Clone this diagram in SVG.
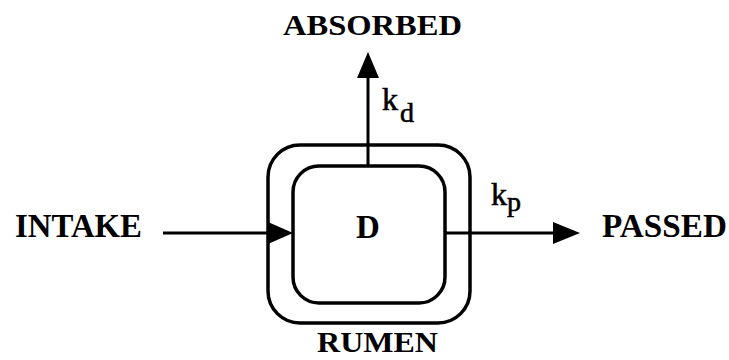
<svg xmlns="http://www.w3.org/2000/svg" width="729" height="360" viewBox="0 0 729 360">
<style>
.lbl{font-family:"Liberation Serif","Times New Roman",serif;font-weight:bold;fill:#000}
.k{font-family:"Liberation Serif","Times New Roman",serif;font-weight:normal;fill:#000;stroke:#000;stroke-width:0.6}
.box{fill:none;stroke:#000;stroke-width:3.5}
.conn{stroke:#000;stroke-width:3;fill:none}
.head{fill:#000}
</style>
<rect width="729" height="360" fill="#fff"/>
<g id="rumen">
<rect class="box" x="268" y="145" width="202" height="178" rx="32" ry="32"/>
<text class="lbl" x="377.5" y="352" font-size="30" text-anchor="middle" textLength="121" lengthAdjust="spacingAndGlyphs">RUMEN</text>
</g>
<g id="d">
<rect class="box" x="293" y="166" width="152" height="137" rx="26" ry="26"/>
<text class="lbl" x="368" y="238" font-size="33" text-anchor="middle">D</text>
</g>
<g id="absorbed">
<text class="lbl" x="372.5" y="35" font-size="30" text-anchor="middle" textLength="179" lengthAdjust="spacingAndGlyphs">ABSORBED</text>
</g>
<g id="intake">
<text class="lbl" x="15" y="237" font-size="33" textLength="127" lengthAdjust="spacingAndGlyphs">INTAKE</text>
</g>
<g id="passed">
<text class="lbl" x="602" y="237" font-size="33" textLength="125" lengthAdjust="spacingAndGlyphs">PASSED</text>
</g>
<g id="connectors">
<line class="conn" x1="163" y1="233" x2="272" y2="233"/>
<polygon class="head" points="293,233 268,222 268,244"/>
<line class="conn" x1="368" y1="166" x2="368" y2="74"/>
<polygon class="head" points="368,52 357,78 379,78"/>
<line class="conn" x1="445" y1="233" x2="558" y2="233"/>
<polygon class="head" points="580,233 553,222 553,244"/>
<text class="k" x="382" y="110" font-size="32">k</text>
<text class="k" x="400" y="122" font-size="28">d</text>
<text class="k" x="491" y="205" font-size="32">k</text>
<text class="k" x="507" y="211" font-size="28">p</text>
</g>
</svg>
